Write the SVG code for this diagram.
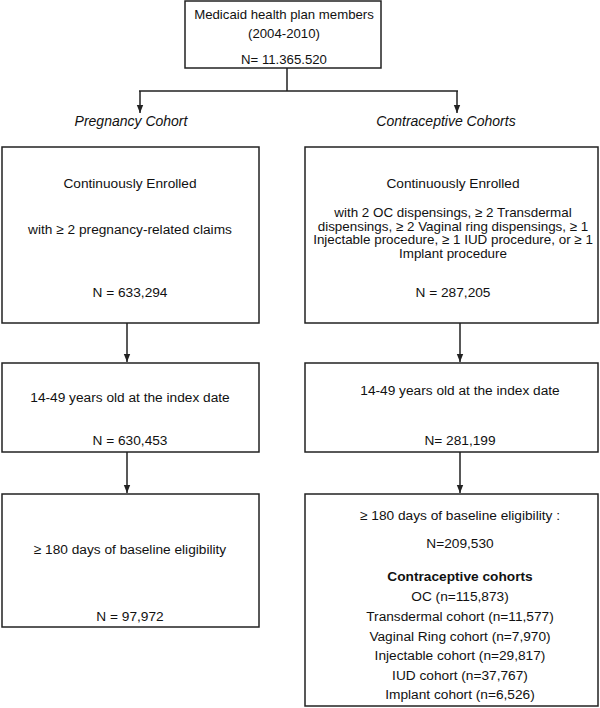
<svg xmlns="http://www.w3.org/2000/svg" width="600" height="708" viewBox="0 0 600 708">
<style>
.box{fill:#fff;stroke:#222;stroke-width:1.5}
.t{font-family:"Liberation Sans",Arial,sans-serif;font-size:13.7px;fill:#111;text-anchor:middle}
.s{font-size:13.2px}
.m{font-size:13.4px}
.it{font-style:italic;font-size:14px}
.b{font-weight:bold}
.ln{fill:none;stroke:#222;stroke-width:1.5}
</style>
<defs>
<marker id="ah" markerWidth="8" markerHeight="8" refX="8" refY="4" orient="auto" markerUnits="userSpaceOnUse">
<path d="M0,0.8 L8,4 L0,7.2 z" fill="#222"/>
</marker>
</defs>
<rect width="600" height="708" fill="#fff"/>
<g id="connectors">
<path class="ln" d="M287,68 V91 M139,91 H458"/>
<path class="ln" d="M140,91 V113" marker-end="url(#ah)"/>
<path class="ln" d="M457,91 V113" marker-end="url(#ah)"/>
<path class="ln" d="M127,323 V362" marker-end="url(#ah)"/>
<path class="ln" d="M460,323 V362" marker-end="url(#ah)"/>
<path class="ln" d="M127,452 V493" marker-end="url(#ah)"/>
<path class="ln" d="M460,452 V493" marker-end="url(#ah)"/>
</g>
<g id="top">
<rect class="box" x="185" y="1" width="196" height="67"/>
<text class="t s" x="284" y="19">Medicaid health plan members</text>
<text class="t s" x="284" y="38">(2004-2010)</text>
<text class="t s" x="284" y="64">N= 11.365.520</text>
</g>
<g id="label-preg"><text class="t it" x="131" y="126">Pregnancy Cohort</text></g>
<g id="label-contra"><text class="t it" x="446" y="126">Contraceptive Cohorts</text></g>
<g id="preg1">
<rect class="box" x="2" y="147" width="257" height="176"/>
<text class="t" x="130" y="188">Continuously Enrolled</text>
<text class="t" x="130" y="234">with ≥ 2  pregnancy-related claims</text>
<text class="t" x="130" y="297">N = 633,294</text>
</g>
<g id="contra1">
<rect class="box" x="305" y="147" width="293" height="176"/>
<text class="t" x="453" y="188">Continuously Enrolled</text>
<text class="t m" x="453" y="217">with 2 OC dispensings, ≥ 2 Transdermal</text>
<text class="t m" x="453" y="230.5">dispensings, ≥ 2 Vaginal ring dispensings, ≥ 1</text>
<text class="t m" x="453" y="244">Injectable procedure, ≥ 1 IUD procedure, or ≥ 1</text>
<text class="t m" x="453" y="257.5">Implant procedure</text>
<text class="t" x="453" y="297">N = 287,205</text>
</g>
<g id="preg2">
<rect class="box" x="2" y="363" width="257" height="89"/>
<text class="t" x="130" y="402">14-49 years old at the index date</text>
<text class="t" x="130" y="445">N = 630,453</text>
</g>
<g id="contra2">
<rect class="box" x="305" y="363" width="293" height="89"/>
<text class="t" x="460" y="395">14-49 years old at the index date</text>
<text class="t" x="460" y="445">N= 281,199</text>
</g>
<g id="preg3">
<rect class="box" x="2" y="494" width="257" height="133"/>
<text class="t" x="130" y="554">≥ 180 days of baseline eligibility</text>
<text class="t" x="130" y="621">N = 97,972</text>
</g>
<g id="contra3">
<rect class="box" x="305" y="494" width="293" height="212"/>
<text class="t" x="460" y="520">≥ 180 days of baseline eligibility :</text>
<text class="t" x="460" y="548">N=209,530</text>
<text class="t b" x="460" y="581">Contraceptive cohorts</text>
<text class="t" x="460" y="601">OC (n=115,873)</text>
<text class="t" x="460" y="621">Transdermal cohort (n=11,577)</text>
<text class="t" x="460" y="641">Vaginal Ring cohort (n=7,970)</text>
<text class="t" x="460" y="660">Injectable cohort (n=29,817)</text>
<text class="t" x="460" y="680">IUD cohort (n=37,767)</text>
<text class="t" x="460" y="699">Implant cohort (n=6,526)</text>
</g>
</svg>
